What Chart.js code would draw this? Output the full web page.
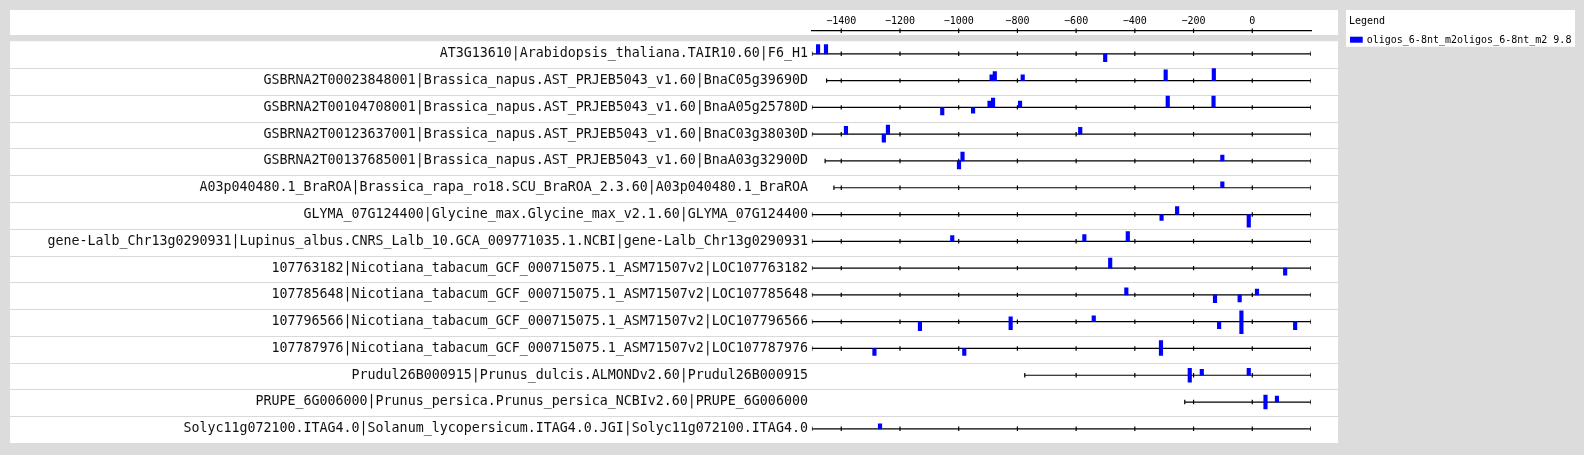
<!DOCTYPE html>
<html>
<head>
<meta charset="utf-8">
<script src="https://cdn.jsdelivr.net/npm/chart.js@4"></script>
<style>
  body { margin: 0; background: #dcdcdc; }
</style>
</head>
<body>
<canvas id="chart" width="1584" height="455"></canvas>
<script>
// gene rows, top to bottom
const rowLabels = [
  'AT3G13610|Arabidopsis_thaliana.TAIR10.60|F6_H1',
  'GSBRNA2T00023848001|Brassica_napus.AST_PRJEB5043_v1.60|BnaC05g39690D',
  'GSBRNA2T00104708001|Brassica_napus.AST_PRJEB5043_v1.60|BnaA05g25780D',
  'GSBRNA2T00123637001|Brassica_napus.AST_PRJEB5043_v1.60|BnaC03g38030D',
  'GSBRNA2T00137685001|Brassica_napus.AST_PRJEB5043_v1.60|BnaA03g32900D',
  'A03p040480.1_BraROA|Brassica_rapa_ro18.SCU_BraROA_2.3.60|A03p040480.1_BraROA',
  'GLYMA_07G124400|Glycine_max.Glycine_max_v2.1.60|GLYMA_07G124400',
  'gene-Lalb_Chr13g0290931|Lupinus_albus.CNRS_Lalb_10.GCA_009771035.1.NCBI|gene-Lalb_Chr13g0290931',
  '107763182|Nicotiana_tabacum_GCF_000715075.1_ASM71507v2|LOC107763182',
  '107785648|Nicotiana_tabacum_GCF_000715075.1_ASM71507v2|LOC107785648',
  '107796566|Nicotiana_tabacum_GCF_000715075.1_ASM71507v2|LOC107796566',
  '107787976|Nicotiana_tabacum_GCF_000715075.1_ASM71507v2|LOC107787976',
  'Prudul26B000915|Prunus_dulcis.ALMONDv2.60|Prudul26B000915',
  'PRUPE_6G006000|Prunus_persica.Prunus_persica_NCBIv2.60|PRUPE_6G006000',
  'Solyc11g072100.ITAG4.0|Solanum_lycopersicum.ITAG4.0.JGI|Solyc11g072100.ITAG4.0'
];
const rowStarts = [-1500, -1450, -1500, -1500, -1455, -1425, -1500, -1500, -1500, -1500, -1500, -1500, -775, -230, -1500];
const rowEnd = 200;
const axisTicks = [-1400, -1200, -1000, -800, -600, -400, -200, 0];

// oligo hits: row, position, score on + strand (drawn up), score on - strand (drawn down)
const hitRow   = [0, 0, 0,   1, 1, 1, 1, 1,   2, 2, 2, 2, 2, 2, 2,   3, 3, 3, 3,   4, 4, 4,   5,   6, 6, 6,   7, 7, 7,   8, 8,   9, 9, 9, 9,   10, 10, 10, 10, 10, 10,   11, 11, 11,   12, 12, 12,   13, 13,   14];
const hitPos   = [-1479, -1452, -501,   -888, -877, -782, -295, -131,   -1056, -951, -895, -883, -791, -288, -132,   -1384, -1255, -1241, -586,   -999, -987, -102,   -102,   -309, -256, -12,   -1022, -572, -424,   -484, 112,   -429, -127, -43, 16,   -1132, -823, -540, -113, -37, 146,   -1287, -981, -311,   -213, -172, -12,   45, 84,   -1268];
const hitPlus  = [6.9, 6.9, 0,   4.4, 6.7, 4.4, 8.1, 8.9,   0, 0, 4.7, 6.9, 4.7, 8.4, 8.4,   5.9, 0, 6.7, 5.2,   0, 6.7, 4.4,   4.4,   0, 5.9, 0,   4.2, 5.0, 7.2,   7.4, 0,   5.2, 0, 0, 4.4,   0, 3.7, 4.4, 0, 8.1, 0,   0, 0, 5.9,   5.2, 4.4, 5.2,   5.2, 4.4,   3.7];
const hitMinus = [0, 0, 5.9,   0, 0, 0, 0, 0,   5.6, 4.4, 0, 0, 0, 0, 0,   0, 5.9, 0, 0,   5.9, 0, 0,   0,   4.4, 0, 9.4,   0, 0, 0,   0, 5.2,   0, 5.9, 5.2, 0,   6.7, 5.9, 0, 5.2, 8.9, 5.9,   5.2, 5.2, 5.2,   5.2, 0, 0,   5.2, 0,   0];

const legendTitle = 'Legend';
const seriesName = 'oligos_6-8nt_m2oligos_6-8nt_m2 9.8';

const ROW = 20;          // y units per row
const BLUE = '#0000ff';
const MONO = '"DejaVu Sans Mono", "Liberation Mono", monospace';

const datasets = [];

// blue oligo bars, one floating bar per strand
const bars = [];
hitPos.forEach((p, i) => {
  const base = hitRow[i] * ROW;
  if (hitPlus[i] > 0) bars.push({ x: p, y: [base, base - hitPlus[i]] });
  if (hitMinus[i] > 0) bars.push({ x: p, y: [base, base + hitMinus[i]] });
});
datasets.push({
  type: 'bar',
  data: bars,
  backgroundColor: BLUE,
  borderWidth: 0,
  barThickness: 3.5,
  grouped: false,
  order: 0
});

// row tick marks
const rowTickPts = [];
rowStarts.forEach((s, r) => {
  const xs = [s].concat(axisTicks.filter(t => t > s && t < rowEnd), [rowEnd]);
  xs.forEach(x => rowTickPts.push({ x: x, y: r * ROW }));
});
datasets.push({
  type: 'scatter',
  data: rowTickPts,
  pointStyle: 'line',
  rotation: 90,
  pointRadius: 2.2,
  pointHoverRadius: 2.2,
  pointBorderColor: '#000',
  pointBorderWidth: 1.2,
  order: 1
});

// top axis tick marks
const Y_MIN = -17.26;
datasets.push({
  type: 'scatter',
  data: axisTicks.map(t => ({ x: t, y: Y_MIN })),
  pointStyle: 'line',
  rotation: 90,
  pointRadius: 2.2,
  pointHoverRadius: 2.2,
  pointBorderColor: '#000',
  pointBorderWidth: 1.2,
  clip: false,
  order: 1
});

// row lines
rowStarts.forEach((s, r) => {
  datasets.push({
    type: 'line',
    data: [{ x: s, y: r * ROW }, { x: rowEnd, y: r * ROW }],
    borderColor: '#000',
    borderWidth: 1.2,
    pointRadius: 0,
    pointHoverRadius: 0,
    order: 2
  });
});

const panels = {
  id: 'panels',
  beforeDraw(chart) {
    const { ctx, scales: { y } } = chart;
    ctx.save();
    ctx.fillStyle = '#dcdcdc';
    ctx.fillRect(0, 0, chart.width, chart.height);
    ctx.fillStyle = '#ffffff';
    const top = y.getPixelForValue(-ROW * 0.47);
    ctx.fillRect(10, 10, 1328, 25);
    ctx.fillRect(10, top, 1328, y.bottom - top);
    ctx.fillRect(1346, 10, 229, 36.7);
    ctx.strokeStyle = '#d9d9d9';
    ctx.lineWidth = 1;
    for (let i = 1; i < rowLabels.length; i++) {
      const py = Math.round(y.getPixelForValue(ROW * i - ROW * 0.47)) + 0.5;
      ctx.beginPath();
      ctx.moveTo(10, py);
      ctx.lineTo(1338, py);
      ctx.stroke();
    }
    ctx.restore();
  },
  afterDraw(chart) {
    const { ctx } = chart;
    ctx.save();
    ctx.font = '10px ' + MONO;
    ctx.fillStyle = '#000';
    ctx.textBaseline = 'middle';
    ctx.fillText(legendTitle, 1349, 21);
    ctx.fillStyle = BLUE;
    ctx.fillRect(1350, 36.7, 12.7, 6);
    ctx.fillStyle = '#000';
    ctx.fillText(seriesName, 1366.7, 40);
    ctx.restore();
  }
};

new Chart(document.getElementById('chart'), {
  data: { datasets: datasets },
  options: {
    responsive: false,
    animation: false,
    events: [],
    layout: { padding: { left: 10, right: 273, top: 0, bottom: 8.7 } },
    plugins: { legend: { display: false }, tooltip: { enabled: false } },
    scales: {
      x: {
        type: 'linear',
        min: -1500,
        max: rowEnd,
        offset: false,
        display: false
      },
      x2: {
        type: 'linear',
        position: 'top',
        min: -1500,
        max: rowEnd,
        offset: false,
        afterBuildTicks: s => { s.ticks = axisTicks.map(v => ({ value: v })); },
        afterFit: s => { s.height = 30.7; },
        grid: { display: false, drawTicks: false },
        border: { display: true, color: '#000', width: 1.2 },
        ticks: {
          padding: 3,
          color: '#000',
          font: { family: MONO, size: 10 },
          callback: v => String(v).replace('-', '\u2212')
        }
      },
      y: {
        type: 'linear',
        reverse: true,
        min: Y_MIN,
        max: 290.6,
        afterBuildTicks: s => { s.ticks = rowLabels.map((_, i) => ({ value: i * ROW })); },
        afterFit: s => { s.width = 801.9; },
        grid: { display: false, drawTicks: false },
        border: { display: false },
        ticks: {
          autoSkip: false,
          padding: 4,
          color: '#111',
          font: { family: MONO, size: 13.3 },
          callback: (v, i) => rowLabels[i]
        }
      }
    }
  },
  plugins: [panels]
});
</script>
</body>
</html>
